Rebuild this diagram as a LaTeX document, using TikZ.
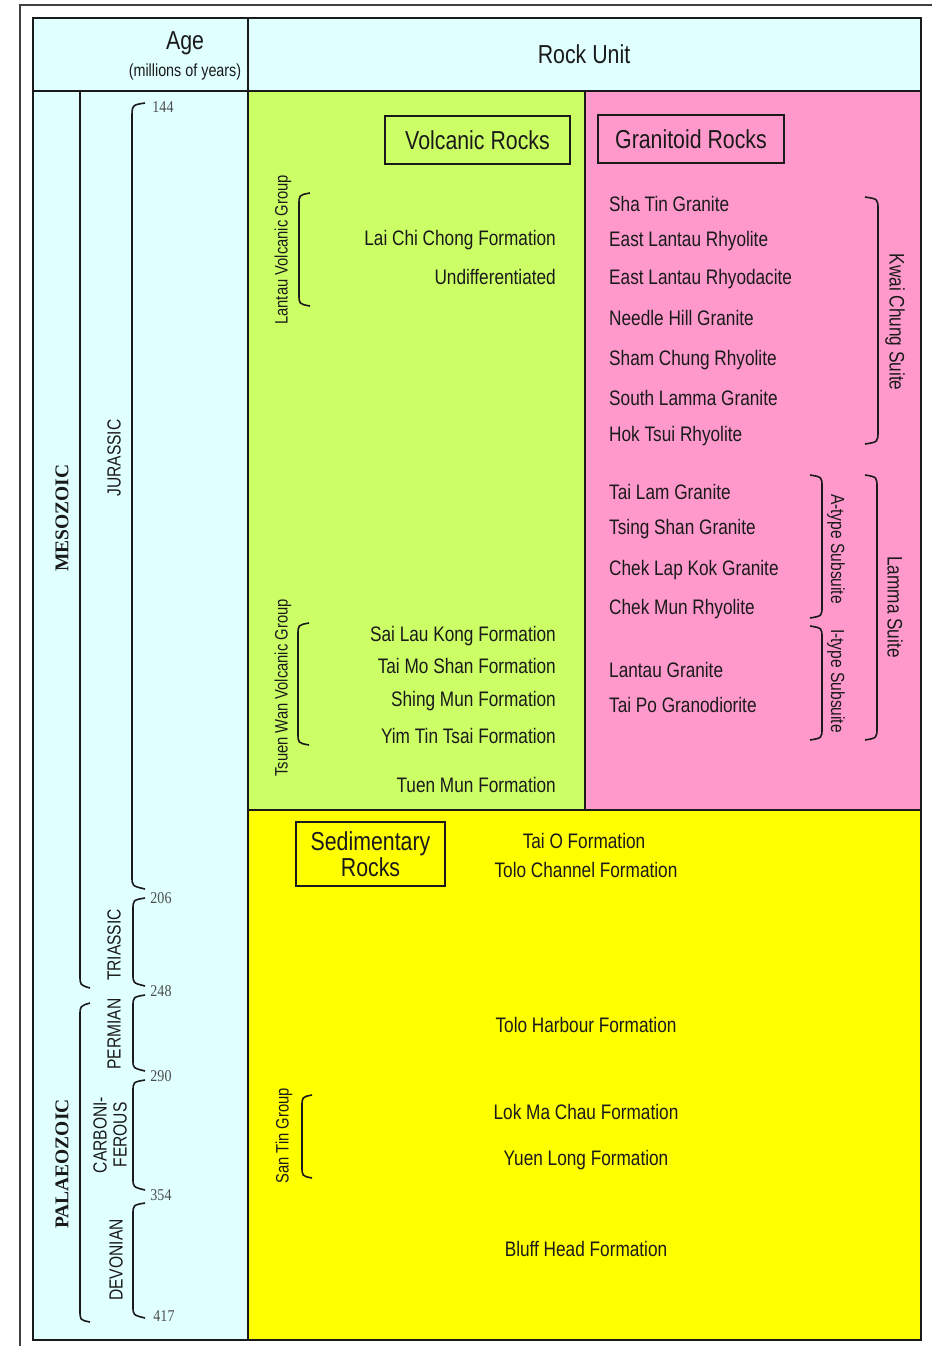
\documentclass[tikz,border=0pt]{standalone}
\usepackage{fontspec}
\setmainfont[FakeStretch=0.82]{Liberation Sans}
\newfontfamily\numfont[FakeStretch=0.85]{Liberation Serif}
\newfontfamily\erafont{Liberation Serif}
\definecolor{cyanbg}{HTML}{E0FFFF}
\definecolor{greenbg}{HTML}{CCFF66}
\definecolor{pinkbg}{HTML}{FF99CC}
\definecolor{yellowbg}{HTML}{FFFF00}
\definecolor{ink}{HTML}{1A1A1A}
\begin{document}
\begin{tikzpicture}[x=1pt,y=-1pt,
  txt/.style={font=\fontsize{21}{24}\selectfont, text=ink, inner sep=0pt},
  fm/.style={txt, anchor=mid east, yshift=-5pt},
  gr/.style={txt, anchor=mid west, yshift=-5pt},
  ct/.style={txt, anchor=mid, yshift=-5pt},
  grp/.style={font=\fontsize{18}{20}\selectfont, text=ink, inner sep=0pt, rotate=90},
  suite/.style={font=\fontsize{21}{24}\selectfont, text=ink, inner sep=0pt, rotate=-90},
  subs/.style={font=\fontsize{19}{21}\selectfont, text=ink, inner sep=0pt, rotate=-90},
  period/.style={font=\fontsize{19}{20}\selectfont, text=ink, inner sep=0pt, rotate=90, align=center},
  num/.style={font=\numfont\fontsize{16.5}{18}\selectfont, text=black!70, inner sep=0pt},
  era/.style={font=\erafont\bfseries\fontsize{19.5}{22}\selectfont, text=ink, inner sep=0pt, rotate=90},
  title/.style={draw=ink, line width=1.6pt, font=\fontsize{26}{26}\selectfont, text=ink, inner sep=0pt, align=center},
  brace/.style={draw=ink, line width=1.6pt},
  frame/.style={draw=black!75, line width=2pt},
  grid/.style={draw=ink, line width=2pt}]
\useasboundingbox (0,0) rectangle (932,1346);
% outer frame
\draw[frame] (20,1346) -- (20,5) -- (932,5);
% fills
\fill[cyanbg] (33,18) rectangle (921,91);
\fill[cyanbg] (33,91) rectangle (248,1340);
\fill[greenbg] (248,91) rectangle (585,810);
\fill[pinkbg] (585,91) rectangle (921,810);
\fill[yellowbg] (248,810) rectangle (921,1340);
% grid lines
\draw[grid] (33,91) -- (921,91);
\draw[grid] (248,18) -- (248,1340);
\draw[grid] (585,91) -- (585,810);
\draw[grid] (248,810) -- (921,810);
\draw[draw=ink, line width=2.6pt] (33,18) rectangle (921,1340);
% header
\node[txt, font=\fontsize{26}{28}\selectfont] (age) at (185,43) {Age};
\node[txt, font=\fontsize{17.5}{20}\selectfont] (myears) at (185,72) {(millions of years)};
\node[txt, font=\fontsize{26}{28}\selectfont] (rockunit) at (584,54) {Rock Unit};
% era braces
\draw[brace] (80,91) -- (80,975) .. controls (80,985) .. (90,988);
\draw[brace] (90,1003) .. controls (80,1006) .. (80,1016) -- (80,1310) .. controls (80,1320) .. (90,1322);
\node[era] (meso) at (62,518) {MESOZOIC};
\node[era] (palaeo) at (62,1164) {PALAEOZOIC};
% period braces
\draw[brace] (145,103) .. controls (132,105) .. (132,118) -- (132,876) .. controls (132,886) .. (145,889);
\draw[brace] (145,898) .. controls (133,900) .. (133,910) -- (133,974) .. controls (133,983) .. (145,986);
\draw[brace] (145,995) .. controls (133,997) .. (133,1007) -- (133,1060) .. controls (133,1068) .. (145,1071);
\draw[brace] (145,1080) .. controls (133,1082) .. (133,1092) -- (133,1178) .. controls (133,1187) .. (145,1190);
\draw[brace] (145,1203) .. controls (133,1205) .. (133,1215) -- (133,1306) .. controls (133,1315) .. (145,1318);
\node[period] (jur) at (114,458) {JURASSIC};
\node[period] (tri) at (114,945) {TRIASSIC};
\node[period] (perm) at (114,1034) {PERMIAN};
\node[period] (carb) at (110,1135) {CARBONI-\\FEROUS};
\node[period] (dev) at (116,1260) {DEVONIAN};
\node[num] (n144) at (163,107) {144};
\node[num] (n206) at (161,898) {206};
\node[num] (n248) at (161,991) {248};
\node[num] (n290) at (161,1076) {290};
\node[num] (n354) at (161,1195) {354};
\node[num] (n417) at (164,1316) {417};
% titles
\node[title, minimum width=185, minimum height=48] (volc) at (477.5,140) {Volcanic Rocks};
\node[title, minimum width=186, minimum height=48] (gran) at (691,139) {Granitoid Rocks};
\node[title, minimum width=149, minimum height=64] (sed) at (370.5,854) {Sedimentary\\Rocks};
% volcanic
\node[grp] (lantau) at (283,250) {Lantau Volcanic Group};
\draw[brace] (310,193) .. controls (299,195) .. (299,205) -- (299,294) .. controls (299,304) .. (310,306);
\node[fm] (lcc) at (556,238) {Lai Chi Chong Formation};
\node[fm] (und) at (556,277) {Undifferentiated};
\node[grp] (tsuen) at (283,688) {Tsuen Wan Volcanic Group};
\draw[brace] (309,623) .. controls (298,625) .. (298,635) -- (298,733) .. controls (298,743) .. (309,745);
\node[fm] (slk) at (556,634) {Sai Lau Kong Formation};
\node[fm] (tms) at (556,666) {Tai Mo Shan Formation};
\node[fm] (sm) at (556,699) {Shing Mun Formation};
\node[fm] (ytt) at (556,736) {Yim Tin Tsai Formation};
\node[fm] (tm) at (556,785) {Tuen Mun Formation};
% granitoid
\node[gr] (g1) at (609,204) {Sha Tin Granite};
\node[gr] (g2) at (609,239) {East Lantau Rhyolite};
\node[gr] (g3) at (609,277) {East Lantau Rhyodacite};
\node[gr] (g4) at (609,318) {Needle Hill Granite};
\node[gr] (g5) at (609,358) {Sham Chung Rhyolite};
\node[gr] (g6) at (609,398) {South Lamma Granite};
\node[gr] (g7) at (609,434) {Hok Tsui Rhyolite};
\node[gr] (g8) at (609,492) {Tai Lam Granite};
\node[gr] (g9) at (609,527) {Tsing Shan Granite};
\node[gr] (g10) at (609,568) {Chek Lap Kok Granite};
\node[gr] (g11) at (609,607) {Chek Mun Rhyolite};
\node[gr] (g12) at (609,670) {Lantau Granite};
\node[gr] (g13) at (609,705) {Tai Po Granodiorite};
\draw[brace] (865,197) .. controls (878,199) .. (878,210) -- (878,431) .. controls (878,442) .. (865,444);
\node[suite] (kwai) at (895,322) {Kwai Chung Suite};
\draw[brace] (865,475) .. controls (877,477) .. (877,488) -- (877,727) .. controls (877,738) .. (865,740);
\node[suite] (lamma) at (895,607) {Lamma Suite};
\draw[brace] (810,475) .. controls (822,477) .. (822,487) -- (822,606) .. controls (822,616) .. (810,618);
\node[subs] (atype) at (836,549) {A-type Subsuite};
\draw[brace] (810,626) .. controls (822,628) .. (822,638) -- (822,728) .. controls (822,738) .. (810,740);
\node[subs] (itype) at (836,681) {I-type Subsuite};
% sedimentary
\node[ct] (taio) at (584,841) {Tai O Formation};
\node[ct] (tolochan) at (586,870) {Tolo Channel Formation};
\node[ct] (toloharb) at (586,1025) {Tolo Harbour Formation};
\node[ct] (lmc) at (586,1112) {Lok Ma Chau Formation};
\node[ct] (yl) at (586,1158) {Yuen Long Formation};
\node[ct] (bh) at (586,1249) {Bluff Head Formation};
\node[grp] (santin) at (284,1136) {San Tin Group};
\draw[brace] (312,1095) .. controls (302,1097) .. (302,1107) -- (302,1166) .. controls (302,1176) .. (312,1178);
\end{tikzpicture}
\end{document}
